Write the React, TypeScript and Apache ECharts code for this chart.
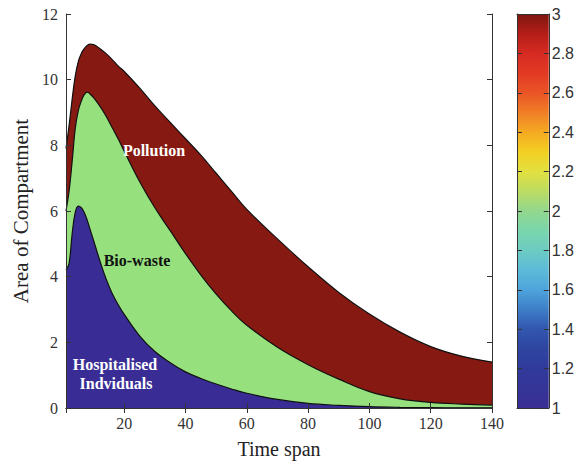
import React, { useEffect, useRef } from "react";
import * as echarts from "echarts";

// Time grid (x values) at which the curves were read
const time = [1, 2, 3, 4, 5, 6, 7, 8, 9, 10, 12, 14, 16, 18, 20, 25, 30, 35, 40, 45, 50, 55, 60, 70, 80, 90, 100, 110, 120, 130, 140];
// Upper boundary of each compartment (cumulative, as drawn)
const hospitalised = [4.2, 4.4, 5.3, 5.95, 6.15, 6.1, 5.95, 5.7, 5.4, 5.1, 4.5, 3.95, 3.5, 3.15, 2.85, 2.2, 1.72, 1.38, 1.1, 0.9, 0.73, 0.58, 0.45, 0.26, 0.14, 0.08, 0.04, 0.02, 0.01, 0.005, 0.003];
const bioWasteTop = [6.0, 6.6, 7.5, 8.5, 9.05, 9.35, 9.55, 9.62, 9.55, 9.45, 9.2, 8.9, 8.55, 8.2, 7.82, 6.9, 6.1, 5.4, 4.7, 4.05, 3.47, 2.96, 2.52, 1.85, 1.32, 0.88, 0.5, 0.28, 0.17, 0.12, 0.09];
const pollutionTop = [7.9, 8.6, 9.4, 10.1, 10.55, 10.8, 10.95, 11.05, 11.08, 11.07, 10.95, 10.8, 10.62, 10.42, 10.25, 9.75, 9.2, 8.7, 8.2, 7.7, 7.15, 6.6, 6.05, 5.15, 4.3, 3.52, 2.86, 2.31, 1.87, 1.58, 1.4];

const xTicks = [20, 40, 60, 80, 100, 120, 140];
const colorbarMin = 1;
const colorbarMax = 3;
// colorbar stops: [value, colour]
const colorbarStops: [number, string][] = [
  [3.0, "#7e1610"],
  [2.9, "#b41e18"],
  [2.8, "#d62a22"],
  [2.7, "#e23a24"],
  [2.6, "#ea5426"],
  [2.5, "#f07e26"],
  [2.4, "#f5aa22"],
  [2.3, "#f2d022"],
  [2.2, "#e2e040"],
  [2.1, "#bcdc62"],
  [2.0, "#92d88e"],
  [1.9, "#7ad6ac"],
  [1.8, "#6ccbc2"],
  [1.7, "#5cbad8"],
  [1.6, "#4ea4dc"],
  [1.5, "#3e7ec8"],
  [1.4, "#3256ae"],
  [1.3, "#2e45a0"],
  [1.2, "#303a9a"],
  [1.0, "#3a2e94"],
];

const SERIF = "'Liberation Serif', 'Times New Roman', serif";
const SANS = "'Liberation Sans', Arial, sans-serif";

export default function App() {
  const ref = useRef<HTMLDivElement>(null);
  useEffect(() => {
    if (!ref.current) return;
    const chart = echarts.init(ref.current, undefined, { renderer: "svg" });
    const pts = (arr: number[]) => time.map((t, i) => [t, arr[i]]);
    const areaSeries = (name: string, arr: number[], color: string) => ({
      name,
      type: "line",
      xAxisIndex: 0,
      yAxisIndex: 0,
      data: pts(arr),
      smooth: 0.4,
      showSymbol: false,
      silent: true,
      lineStyle: { color: "#111", width: 1.2 },
      areaStyle: { color, opacity: 1 },
    });
    const axisLineStyle = { lineStyle: { color: "#333", width: 1 } };
    const inTick = { show: true, inside: true, length: 5, lineStyle: { color: "#333" } };
    const span = colorbarMax - colorbarMin;
    const gradient = new echarts.graphic.LinearGradient(
      0, 0, 0, 1,
      colorbarStops.map(([v, c]) => ({ offset: (colorbarMax - v) / span, color: c }))
    );
    const labelFont = `bold 16px ${SERIF}`;
    chart.setOption({
      animation: false,
      backgroundColor: "#fff",
      grid: [
        { left: 66, right: 85, top: 14, bottom: 59 },
        { left: 517, width: 33, top: 14, bottom: 59 },
      ],
      xAxis: [
        {
          type: "value", gridIndex: 0, min: 1, max: 140, splitNumber: 7, z: 10,
          axisLine: axisLineStyle, axisTick: inTick, splitLine: { show: false },
          axisLabel: {
            margin: 7, color: "#333", fontFamily: SERIF, fontSize: 16,
            formatter: (v: number) => (xTicks.includes(v) ? String(v) : ""),
          },
          name: "Time span", nameLocation: "middle", nameGap: 31,
          nameTextStyle: { fontFamily: SERIF, fontSize: 20, color: "#222" },
        },
        {
          type: "value", gridIndex: 0, position: "top", min: 1, max: 140, splitNumber: 7, z: 10,
          axisLine: axisLineStyle, axisTick: inTick, axisLabel: { show: false }, splitLine: { show: false },
        },
        {
          type: "category", gridIndex: 1, data: ["c"], z: 10,
          axisLine: axisLineStyle, axisTick: { show: false }, axisLabel: { show: false },
        },
        {
          type: "category", gridIndex: 1, position: "top", data: ["c"], z: 10,
          axisLine: axisLineStyle, axisTick: { show: false }, axisLabel: { show: false },
        },
      ],
      yAxis: [
        {
          type: "value", gridIndex: 0, min: 0, max: 12, interval: 2, z: 10,
          axisLine: { show: true, ...axisLineStyle }, axisTick: inTick, splitLine: { show: false },
          axisLabel: { margin: 8, color: "#333", fontFamily: SERIF, fontSize: 16 },
          name: "Area of Compartment", nameLocation: "middle", nameGap: 32,
          nameTextStyle: { fontFamily: SERIF, fontSize: 21, color: "#222" },
        },
        {
          type: "value", gridIndex: 0, position: "right", min: 0, max: 12, interval: 2, z: 10,
          axisLine: { show: true, ...axisLineStyle }, axisTick: inTick, axisLabel: { show: false },
          splitLine: { show: false },
        },
        {
          type: "value", gridIndex: 1, position: "right", min: colorbarMin, max: colorbarMax, interval: 0.2, z: 10,
          axisLine: { show: true, ...axisLineStyle }, axisTick: inTick, splitLine: { show: false },
          axisLabel: {
            margin: 3, color: "#333", fontFamily: SANS, fontSize: 16,
            formatter: (v: number) => String(+v.toFixed(1)),
          },
        },
        {
          type: "value", gridIndex: 1, position: "left", min: colorbarMin, max: colorbarMax, interval: 0.2, z: 10,
          axisLine: { show: true, ...axisLineStyle }, axisTick: inTick, axisLabel: { show: false },
          splitLine: { show: false },
        },
      ],
      series: [
        areaSeries("Pollution", pollutionTop, "#861a12"),
        areaSeries("Bio-waste", bioWasteTop, "#97e07e"),
        areaSeries("Hospitalised Indviduals", hospitalised, "#392d95"),
        {
          type: "bar", xAxisIndex: 2, yAxisIndex: 2, stack: "cb", silent: true,
          barWidth: "100%", data: [colorbarMin], itemStyle: { color: "rgba(0,0,0,0)" },
        },
        {
          type: "bar", xAxisIndex: 2, yAxisIndex: 2, stack: "cb", silent: true,
          barWidth: "100%", data: [colorbarMax - colorbarMin], itemStyle: { color: gradient },
        },
      ],
      graphic: [
        {
          type: "text", x: 154, y: 150, z: 100,
          style: { text: "Pollution", fill: "#fff", font: labelFont, textAlign: "center", textVerticalAlign: "middle" },
        },
        {
          type: "text", x: 137, y: 260, z: 100,
          style: { text: "Bio-waste", fill: "#111", font: labelFont, textAlign: "center", textVerticalAlign: "middle" },
        },
        {
          type: "text", x: 115, y: 364, z: 100,
          style: { text: "Hospitalised", fill: "#fff", font: labelFont, textAlign: "center", textVerticalAlign: "middle" },
        },
        {
          type: "text", x: 116, y: 383, z: 100,
          style: { text: "Indviduals", fill: "#fff", font: labelFont, textAlign: "center", textVerticalAlign: "middle" },
        },
      ],
    });
    return () => chart.dispose();
  }, []);
  return (
    <div
      ref={ref}
      style={{ position: "fixed", left: 0, top: 0, width: 577, height: 467 }}
    />
  );
}
